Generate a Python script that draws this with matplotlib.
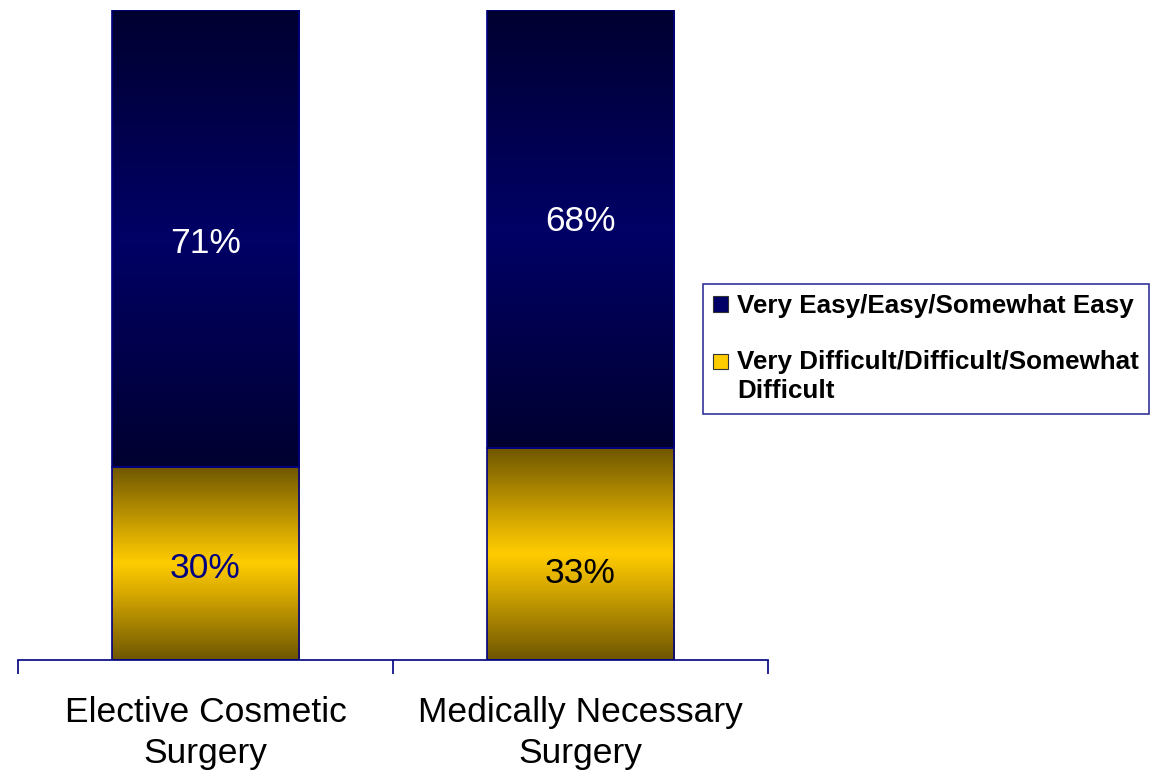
import numpy as np
import matplotlib.pyplot as plt
from matplotlib.colors import LinearSegmentedColormap
from matplotlib.patches import Patch, Rectangle
from matplotlib.legend_handler import HandlerPatch

plt.rcParams['font.family'] = ['Liberation Sans', 'DejaVu Sans']

categories = ['Elective Cosmetic\nSurgery', 'Medically Necessary\nSurgery']
difficult = [30, 33]
easy = [71, 68]
easy_labels = ['71%', '68%']
difficult_labels = ['30%', '33%']
series_names = ['Very Easy/Easy/Somewhat Easy',
                'Very Difficult/Difficult/Somewhat\nDifficult']

# label nudges (layout only)
easy_nudge = [-0.8, 1.2]
diff_nudge = [-0.8, -3.1]

navy_cmap = LinearSegmentedColormap.from_list(
    'navy', [(0, '#000030'), (0.5, '#000066'), (1, '#000030')])
gold_cmap = LinearSegmentedColormap.from_list(
    'gold', [(0, '#6e5600'), (0.35, '#d8aa00'), (0.5, '#ffcc00'),
             (0.65, '#d8aa00'), (1, '#6e5600')])

fig = plt.figure(figsize=(11.57, 7.72), dpi=100)
ax = fig.add_axes([18 / 1157, 112 / 772, 750 / 1157, 650 / 772])

x = np.arange(len(categories))
w = 0.5
grad = np.linspace(0, 1, 256).reshape(-1, 1)


def gradient_bars(bars, cmap):
    for b in bars:
        x0, y0 = b.get_x(), b.get_y()
        im = ax.imshow(grad, cmap=cmap, aspect='auto', origin='upper',
                       extent=[x0, x0 + b.get_width(), y0, y0 + b.get_height()],
                       zorder=2)
        im.set_clip_path(b)


b1 = ax.bar(x, difficult, w, color='#ffcc00', edgecolor='#000080', linewidth=1.2, zorder=3)
for b in b1:
    b.set_facecolor('none')
b2 = ax.bar(x, easy, w, bottom=difficult, color='#000066', edgecolor='#000080', linewidth=1.2, zorder=3)
for b in b2:
    b.set_facecolor('none')
gradient_bars(b1, gold_cmap)
gradient_bars(b2, navy_cmap)

diff_colors = ['#000080', 'black']
for i in range(len(categories)):
    ax.text(x[i], difficult[i] / 2 + diff_nudge[i], difficult_labels[i], ha='center', va='center',
            fontsize=25.5, color=diff_colors[i], zorder=4)
    ax.text(x[i], difficult[i] + easy[i] / 2 + easy_nudge[i], easy_labels[i], ha='center', va='center',
            fontsize=25.5, color='white', zorder=4)

ax.set_xlim(-0.5, len(categories) - 0.5)
ax.set_ylim(0, 101)
for s in ['top', 'right', 'left']:
    ax.spines[s].set_visible(False)
ax.spines['bottom'].set_color('#000080')
ax.spines['bottom'].set_linewidth(1.2)
ax.set_yticks([])
ax.set_xticks(x)
ax.set_xticklabels(categories, fontsize=25.5, linespacing=1.32)
ax.tick_params(axis='x', which='major', length=0, pad=26)
ax.set_xticks(np.arange(-0.5, len(categories)), minor=True)
ax.tick_params(axis='x', which='minor', length=10, width=1.2, color='#000080', direction='out')


def raised_patch(legend, orig_handle, xdescent, ydescent, width, height, fontsize):
    # keep the marker level with the first line of a two-line label
    return Rectangle((-xdescent, -ydescent + 0.58 * fontsize), width, height)


handles = [Patch(facecolor='#000066', edgecolor='#333333', linewidth=0.8),
           Patch(facecolor='#ffcc00', edgecolor='#333333', linewidth=0.8)]
leg = fig.legend(handles, series_names, loc='upper left',
                 bbox_to_anchor=(703 / 1157, 1 - 284 / 772),
                 prop={'weight': 'bold', 'size': 18.7}, frameon=True, fancybox=False,
                 handlelength=0.55, handleheight=0.55, handletextpad=0.35,
                 labelspacing=1.2, borderpad=0.4, borderaxespad=0,
                 handler_map={handles[1]: HandlerPatch(patch_func=raised_patch)})
for t in leg.get_texts():
    t.set_linespacing(1.3)
leg.get_frame().set_edgecolor('#000080')
leg.get_frame().set_linewidth(1.2)

fig.savefig('out.png', dpi=100)
